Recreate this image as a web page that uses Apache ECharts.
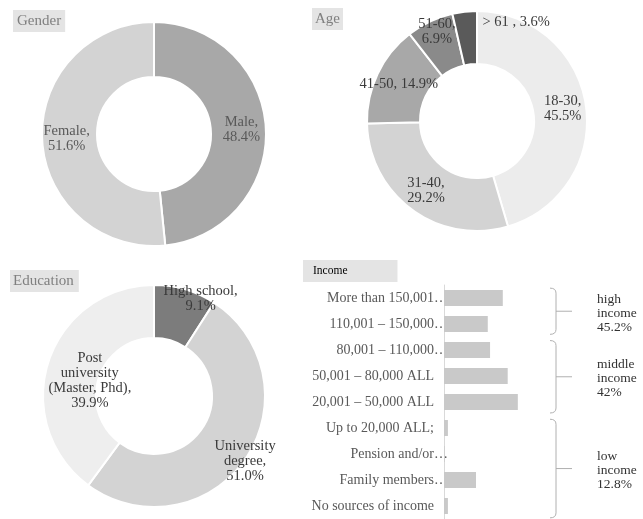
<!DOCTYPE html>
<html>
<head>
<meta charset="utf-8">
<script src="https://cdn.jsdelivr.net/npm/echarts@6/dist/echarts.min.js"></script>
<style>
  html, body { margin: 0; padding: 0; background: #fff; }
  #chart { width: 643px; height: 519px; }
</style>
</head>
<body>
<div id="chart"></div>
<script>
// gender
const genderNames = ['Male', 'Female'];
const genderValues = [48.4, 51.6];
const genderColors = ['#a8a8a8', '#d3d3d3'];

// age
const ageNames = ['18-30', '31-40', '41-50', '51-60', '> 61 '];
const ageValues = [45.5, 29.2, 14.9, 6.9, 3.6];
const ageColors = ['#ececec', '#d3d3d3', '#a8a8a8', '#8a8a8a', '#5a5a5a'];

// education
const eduNames = ['High school', 'University\ndegree', 'Post\nuniversity\n(Master, Phd)'];
const eduValues = [9.1, 51.0, 39.9];
const eduColors = ['#7c7c7c', '#d3d3d3', '#eeeeee'];

// income (share of respondents, %)
const incomeCats = [
  'More than 150,001…', '110,001 – 150,000…', '80,001 – 110,000…',
  '50,001 – 80,000 ALL', '20,001 – 50,000 ALL', 'Up to 20,000 ALL;',
  'Pension and/or…', 'Family members…', 'No sources of income'
];
const incomeValues = [18.0, 13.4, 14.1, 19.5, 22.6, 1.2, 0.2, 9.8, 1.2];

// income groups: first/last category index + label
const incomeGroups = [
  { from: 0, to: 1, label: 'high\nincome\n45.2%' },
  { from: 2, to: 4, label: 'middle\nincome\n42%' },
  { from: 5, to: 8, label: 'low\nincome\n12.8%' }
];

const serif = '"Liberation Serif", "DejaVu Serif", serif';

const chart = echarts.init(document.getElementById('chart'));

const titleBox = (text, left, top, pad, color, size) => ({
  text: text,
  left: left,
  top: top,
  padding: pad,
  backgroundColor: '#e4e4e4',
  textStyle: { fontFamily: serif, fontSize: size, fontWeight: 'normal', color: color }
});

const pieBase = {
  type: 'pie',
  radius: [57, 112],
  startAngle: 90,
  clockwise: true,
  avoidLabelOverlap: false,
  silent: true,
  itemStyle: { borderColor: '#fff', borderWidth: 2 },
  label: {
    show: true,
    position: 'inside',
    fontFamily: serif,
    fontSize: 14.5,
    lineHeight: 15,
    color: '#3a3a3a'
  },
  labelLine: { show: false }
};

const makeData = (names, values, colors) =>
  names.map((n, i) => ({ name: n, value: values[i], itemStyle: { color: colors[i] } }));

const twoLine = (p) => p.name + ',\n' + p.value.toFixed(1) + '%';
const oneLine = (p) => p.name + ', ' + p.value.toFixed(1) + '%';

// income grid box
const gTop = 285, gHeight = 236;
const band = gHeight / incomeCats.length;
const rowY = (i) => gTop + (i + 0.5) * band;

// group braces next to the income bars
const x0 = 550, x1 = 556, x2 = 572;
const braceStyle = { stroke: '#b0b0b0', lineWidth: 1, fill: null };
const graphics = [];
incomeGroups.forEach((g) => {
  const yTop = rowY(g.from) - 10;
  const yBot = rowY(g.to) + 10;
  const yMid = (yTop + yBot) / 2;
  graphics.push(
    { type: 'bezierCurve', shape: { x1: x0, y1: yTop, cpx1: x1, cpy1: yTop, x2: x1, y2: yTop + 5 }, style: braceStyle },
    { type: 'line', shape: { x1: x1, y1: yTop + 5, x2: x1, y2: yBot - 5 }, style: braceStyle },
    { type: 'bezierCurve', shape: { x1: x1, y1: yBot - 5, cpx1: x1, cpy1: yBot, x2: x0, y2: yBot }, style: braceStyle },
    { type: 'line', shape: { x1: x1, y1: yMid, x2: x2, y2: yMid }, style: braceStyle },
    {
      type: 'text',
      x: 597,
      y: yMid + 2,
      style: {
        text: g.label,
        fontFamily: serif,
        fontSize: 13.5,
        lineHeight: 14,
        fill: '#333',
        verticalAlign: 'middle'
      }
    }
  );
});

chart.setOption({
  animation: false,
  title: [
    titleBox('Gender', 13, 10, [4, 4, 3, 4], '#7f7f7f', 15),
    titleBox('Age', 312, 8, [4, 3, 3, 3], '#7f7f7f', 15),
    titleBox('Education', 10, 270, [4, 5, 3, 3], '#7f7f7f', 15),
    titleBox('Income', 303, 260, [5, 50, 5, 10], '#000', 11.5)
  ],
  grid: { left: 444, top: gTop, width: 98, height: gHeight, containLabel: false },
  xAxis: { type: 'value', min: 0, max: 30, show: false },
  yAxis: {
    type: 'category',
    inverse: true,
    data: incomeCats,
    axisLine: { show: true, lineStyle: { color: '#d9d9d9' } },
    axisTick: { show: false },
    axisLabel: {
      fontFamily: serif,
      fontSize: 14,
      color: '#595959',
      margin: -4,
      // truncated names run up to the axis, full names stop short of it
      formatter: (v) => v.endsWith('…') ? v : v + '\u2002\u2002'
    }
  },
  graphic: graphics,
  series: [
    Object.assign({}, pieBase, {
      center: [154, 134],
      data: makeData(genderNames, genderValues, genderColors),
      label: Object.assign({}, pieBase.label, { formatter: twoLine, color: '#595959' })
    }),
    Object.assign({}, pieBase, {
      center: [477, 121],
      radius: [57, 110],
      data: makeData(ageNames, ageValues, ageColors).map((d, i) => {
        if (i === 2 || i === 4) d.label = { formatter: oneLine };
        return d;
      }),
      label: Object.assign({}, pieBase.label, { formatter: twoLine }),
      labelLayout: (p) => {
        if (p.dataIndex === 4) return { dx: 49, dy: -13 };
        if (p.dataIndex === 3) return { dx: -3, dy: -11 };
        return {};
      }
    }),
    Object.assign({}, pieBase, {
      center: [154, 396],
      radius: [58, 111],
      data: makeData(eduNames, eduValues, eduColors),
      label: Object.assign({}, pieBase.label, { formatter: twoLine }),
      labelLayout: (p) => {
        if (p.dataIndex === 0) return { dx: 22, dy: -13 };
        if (p.dataIndex === 1) return { dx: 19, dy: 16 };
        if (p.dataIndex === 2) return { dx: 19, dy: 12 };
        return {};
      }
    }),
    {
      type: 'bar',
      silent: true,
      barWidth: 16,
      data: incomeValues,
      itemStyle: { color: '#c9c9c9' }
    }
  ]
});
</script>
</body>
</html>
